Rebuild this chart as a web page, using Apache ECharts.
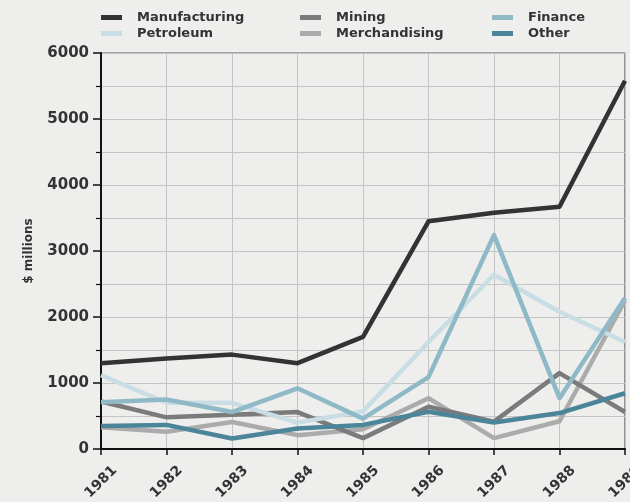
<!DOCTYPE html>
<html>
<head>
<meta charset="utf-8">
<script src="https://cdn.jsdelivr.net/npm/echarts@6/dist/echarts.min.js"></script>
<style>
html,body{margin:0;padding:0;background:#eeeeec;}
#c{width:630px;height:502px;}
</style>
</head>
<body>
<div id="c"></div>
<script>
const years = ['1981','1982','1983','1984','1985','1986','1987','1988','1989'];
const manufacturing = [1300, 1370, 1430, 1300, 1700, 3450, 3580, 3670, 5580];
const petroleum     = [1120, 700, 700, 400, 570, 1620, 2640, 2080, 1620];
const mining        = [720, 480, 520, 560, 165, 640, 415, 1150, 560];
const merchandising = [330, 260, 410, 210, 300, 770, 165, 420, 2250];
const finance       = [710, 750, 560, 920, 460, 1090, 3240, 770, 2290];
const other         = [350, 365, 160, 310, 365, 565, 400, 545, 845];
const yTicks = [0, 1000, 2000, 3000, 4000, 5000, 6000];

const colors = {
  Manufacturing: '#333333',
  Petroleum: '#c9dde5',
  Mining: '#7b7b7b',
  Merchandising: '#ababab',
  Finance: '#8fb9c7',
  Other: '#4b8599'
};
const font = '"DejaVu Sans", sans-serif';
function s(name, data, z) {
  return {
    name, type: 'line', data, symbol: 'none', z,
    lineStyle: {width: 4.5, color: colors[name], join: 'round'},
    itemStyle: {color: colors[name]}
  };
}
function legend(left, names) {
  return {
    left, top: 6, orient: 'vertical', itemGap: 3, itemWidth: 21, itemHeight: 5,
    icon: 'rect', data: names,
    textStyle: {fontFamily: font, fontWeight: 'bold', fontSize: 13, color: '#333', padding: [0,0,0,10]}
  };
}
const chart = echarts.init(document.getElementById('c'));
chart.setOption({
  backgroundColor: '#eeeeec',
  animation: false,
  legend: [
    legend(96, ['Manufacturing', 'Petroleum']),
    legend(295, ['Mining', 'Merchandising']),
    legend(487, ['Finance', 'Other'])
  ],
  grid: {left: 101, right: 5, top: 53, bottom: 53, containLabel: false, outerBoundsMode: 'none',
    show: true, borderColor: '#555', borderWidth: 1.2, backgroundColor: 'transparent'},
  xAxis: {
    type: 'category', data: years, boundaryGap: false,
    axisLine: {lineStyle: {color: '#111', width: 2}},
    axisTick: {show: true, length: 6, lineStyle: {color: '#111', width: 1.5}},
    axisLabel: {rotate: 45, align: 'center', verticalAlign: 'middle', fontFamily: font, fontWeight: 'bold', fontSize: 14, color: '#333', margin: 33, hideOverlap: false},
    splitLine: {show: true, lineStyle: {color: '#c4c4c4', width: 1}}
  },
  yAxis: {
    type: 'value', min: 0, max: 6000, interval: 1000,
    name: '$ millions', nameLocation: 'middle', nameGap: 66, nameRotate: 90,
    nameTextStyle: {fontFamily: font, fontWeight: 'bold', fontSize: 12, color: '#333'},
    axisLine: {show: true, lineStyle: {color: '#111', width: 2}},
    axisTick: {show: true, length: 8, lineStyle: {color: '#111', width: 1.5}},
    minorTick: {show: true, splitNumber: 2, length: 5, lineStyle: {color: '#111', width: 1.2}},
    minorSplitLine: {show: true, lineStyle: {color: '#c4c4c4', width: 1}},
    axisLabel: {fontFamily: font, fontWeight: 'bold', fontSize: 15, color: '#333', margin: 12,
      formatter: v => yTicks.includes(v) ? String(v) : ''},
    splitLine: {show: true, lineStyle: {color: '#c4c4c4', width: 1}}
  },
  series: [
    s('Merchandising', merchandising, 2),
    s('Mining', mining, 3),
    s('Petroleum', petroleum, 4),
    s('Finance', finance, 5),
    s('Other', other, 6),
    s('Manufacturing', manufacturing, 7)
  ]
});
</script>
</body>
</html>
